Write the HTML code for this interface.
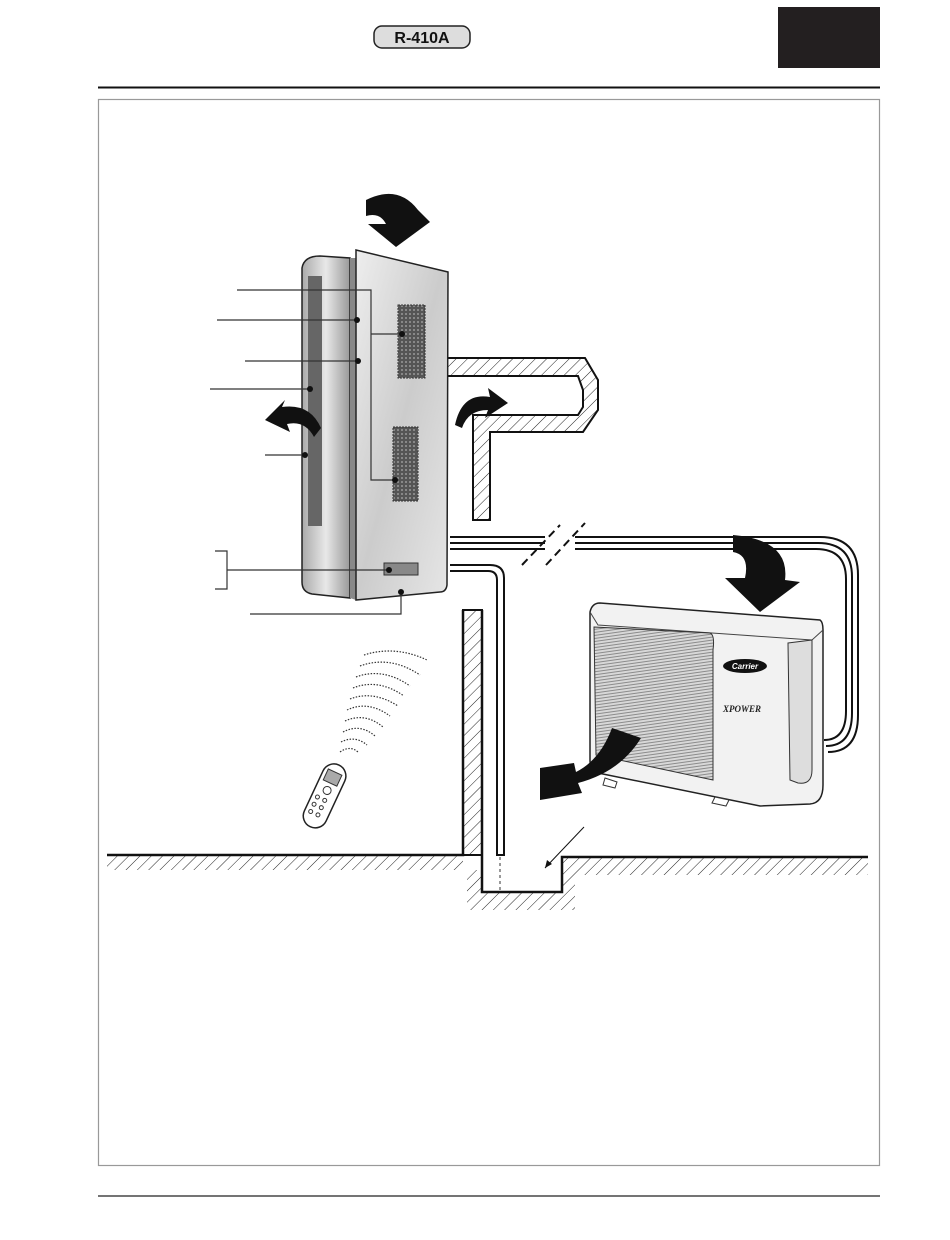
<!DOCTYPE html>
<html><head><meta charset="utf-8"><style>
html,body{margin:0;padding:0;background:#fff;}
svg{display:block;}
</style></head><body>
<svg width="950" height="1240" viewBox="0 0 950 1240" xmlns="http://www.w3.org/2000/svg">
<defs>
<pattern id="h" width="8" height="8" patternUnits="userSpaceOnUse" patternTransform="rotate(45)">
<line x1="0" y1="0" x2="0" y2="8" stroke="#222" stroke-width="1"/></pattern>
<pattern id="g" width="4" height="4" patternUnits="userSpaceOnUse">
<rect width="4" height="4" fill="#555"/><rect x="1" y="1" width="2" height="2" fill="#888"/></pattern>
<pattern id="mesh" width="6" height="3" patternUnits="userSpaceOnUse" patternTransform="rotate(-8)">
<rect width="6" height="3" fill="#d8d8d8"/><line x1="0" y1="1" x2="6" y2="1" stroke="#777" stroke-width="0.8"/></pattern>
<linearGradient id="pg" x1="0" y1="0" x2="1" y2="1"><stop offset="0" stop-color="#eee"/><stop offset="0.5" stop-color="#ccc"/><stop offset="1" stop-color="#e6e6e6"/></linearGradient>
<linearGradient id="bg" x1="0" y1="0" x2="1" y2="0"><stop offset="0" stop-color="#aaa"/><stop offset="0.5" stop-color="#e8e8e8"/><stop offset="1" stop-color="#999"/></linearGradient>
</defs>

<!-- header -->
<rect x="778" y="7" width="102" height="61" fill="#231f20"/>
<rect x="374" y="26" width="96" height="22" rx="8" fill="#ddd" stroke="#222" stroke-width="1.5"/>
<text x="422" y="43" font-family="Liberation Sans, sans-serif" font-weight="bold" font-size="16" text-anchor="middle" fill="#111">R-410A</text>
<line x1="98" y1="87.5" x2="880" y2="87.5" stroke="#111" stroke-width="2"/>
<rect x="98.5" y="99.5" width="781" height="1066" fill="none" stroke="#999" stroke-width="1.2"/>
<line x1="98" y1="1196" x2="880" y2="1196" stroke="#222" stroke-width="1.2"/>

<!-- duct -->
<path d="M447 358 H585 L598 380 V410 L583 432 H490 V520 H473 V415 H578 L583 407 V390 L578 376 H447 Z" fill="url(#h)" stroke="#111" stroke-width="2"/>

<!-- pipes -->
<g fill="none" stroke="#111" stroke-width="2">
<path d="M450 537 H545 M575 537 H820 Q858 537 858 575 V715 Q858 752 828 752"/>
<path d="M450 543 H545 M575 543 H818 Q852 543 852 577 V713 Q852 746 826 746"/>
<path d="M450 549 H545 M575 549 H816 Q846 549 846 579 V711 Q846 740 824 740"/>
<path d="M450 565 H490 Q504 565 504 578 V855 H497 V580 Q497 571 488 571 H450"/>
</g>
<rect x="546" y="532" width="28" height="20" fill="#fff"/>
<g stroke="#111" stroke-width="2">
<line x1="522" y1="565" x2="560" y2="525" stroke-dasharray="8,5"/>
<line x1="546" y1="565" x2="585" y2="523" stroke-dasharray="8,5"/>
</g>

<!-- walls / floor -->
<rect x="463" y="610" width="19" height="245" fill="url(#h)" stroke="#111" stroke-width="2"/>
<path d="M107 855 H463 V870 H107 Z" fill="url(#h)"/>
<path d="M482 855 V892 H562 V857 H868 V875 H575 V910 H467 V870 H482Z" fill="url(#h)"/>
<path d="M107 855 H463 V610 M482 610 V892 H562 V857 H868" fill="none" stroke="#111" stroke-width="2.5"/>
<line x1="500" y1="857" x2="500" y2="892" stroke="#333" stroke-dasharray="3,3"/>
<path d="M584 827 L545 868" stroke="#111" fill="none"/>
<path d="M545 868 l2 -8 l5 4z" fill="#111"/>

<!-- indoor unit -->
<path d="M302 268 Q304 256 320 256 L350 258 V598 L312 594 Q302 592 302 582 Z" fill="url(#bg)" stroke="#222" stroke-width="1.5"/>
<rect x="308" y="276" width="14" height="250" fill="#666"/>
<path d="M350 258 L356 258 V600 L350 598Z" fill="#888"/>
<path d="M356 250 L448 272 L447 585 Q446 592 440 592 L356 600 Z" fill="url(#pg)" stroke="#222" stroke-width="1.5"/>
<rect x="398" y="305" width="27" height="73" fill="url(#g)" stroke="#333" stroke-dasharray="2,1"/>
<rect x="393" y="427" width="25" height="74" fill="url(#g)" stroke="#333" stroke-dasharray="2,1"/>
<rect x="384" y="563" width="34" height="12" fill="#888" stroke="#333"/>

<!-- leaders -->
<g stroke="#333" stroke-width="1.2" fill="none">
<path d="M237 290 H371 V480 H395"/><path d="M371 334 H402"/>
<line x1="217" y1="320" x2="357" y2="320"/>
<line x1="245" y1="361" x2="358" y2="361"/>
<line x1="210" y1="389" x2="310" y2="389"/>
<line x1="265" y1="455" x2="305" y2="455"/>
<line x1="227" y1="570" x2="389" y2="570"/>
<path d="M215 551 H227 V589 H215"/>
<path d="M250 614 H401 V593"/>
</g>
<g fill="#111"><circle cx="402" cy="334" r="3"/><circle cx="395" cy="480" r="3"/><circle cx="357" cy="320" r="3"/><circle cx="358" cy="361" r="3"/><circle cx="310" cy="389" r="3"/><circle cx="305" cy="455" r="3"/><circle cx="389" cy="570" r="3"/><circle cx="401" cy="592" r="3"/></g>

<!-- outdoor unit -->
<path d="M590 612 Q592 603 600 603 L820 620 Q823 622 823 630 V785 Q823 803 810 804 L760 806 L598 773 Q590 771 590 760Z" fill="#f2f2f2" stroke="#222" stroke-width="1.5"/>
<path d="M590 612 L598 625 L812 640 L823 630" fill="none" stroke="#444"/>
<path d="M594 627 L710 633 Q715 635 713 650 V780 L596 755 Z" fill="url(#mesh)" stroke="#333"/>
<path d="M788 643 L812 640 V770 Q812 785 798 783 L790 780 Z" fill="#ddd" stroke="#333"/>
<ellipse cx="745" cy="666" rx="22" ry="7" fill="#111"/>
<text x="745" y="669" font-family="Liberation Sans, sans-serif" font-size="8" font-weight="bold" fill="#fff" text-anchor="middle" font-style="italic">Carrier</text>
<text x="723" y="712" font-family="Liberation Serif, serif" font-size="9" font-weight="bold" font-style="italic" fill="#222">XPOWER</text>
<path d="M605 778 l12 4 l-2 6 l-12 -3z M715 797 l14 3 l-3 6 l-14 -3z" fill="#fff" stroke="#333"/>

<!-- arrows -->
<g fill="#111">
<path d="M366 200 Q398 184 418 210 L430 222 L396 247 L368 224 L386 224 Q380 212 366 216 Z"/>
<path d="M321 428 Q310 403 282 407 L285 400 L265 420 L290 432 L287 424 Q305 420 314 437 Z"/>
<path d="M455 425 Q462 392 490 397 L488 388 L508 403 L485 418 L488 410 Q468 410 462 428Z"/>
<path d="M733 535 Q790 540 785 580 L800 582 L760 612 L725 578 L745 578 Q750 555 733 552Z"/>
<path d="M612 728 L641 738 Q620 772 578 783 L582 793 L540 800 L540 768 L574 763 L576 772 Q600 760 612 728Z"/>
</g>

<!-- signal & remote -->
<g fill="none" stroke="#333" stroke-width="1.2" stroke-dasharray="1.5,1.5">
<path d="M340 752 Q350 745 358 752"/><path d="M341 742 Q355 735 367 745"/><path d="M343 732 Q360 723 375 736"/>
<path d="M345 721 Q365 712 383 727"/><path d="M347 710 Q368 700 390 716"/><path d="M350 699 Q373 690 398 706"/>
<path d="M353 688 Q378 678 404 696"/><path d="M356 677 Q383 667 410 686"/><path d="M360 666 Q390 655 420 675"/><path d="M364 655 Q395 645 427 660"/>
</g>
<g transform="rotate(25 325 795)">
<rect x="313" y="762" width="24" height="68" rx="12" fill="#fff" stroke="#222" stroke-width="1.5"/>
<rect x="317" y="770" width="15" height="12" fill="#aaa" stroke="#333"/>
<g fill="none" stroke="#333"><circle cx="325" cy="790" r="4"/><circle cx="319" cy="800" r="2"/><circle cx="327" cy="800" r="2"/><circle cx="319" cy="808" r="2"/><circle cx="327" cy="808" r="2"/><circle cx="319" cy="816" r="2"/><circle cx="327" cy="816" r="2"/></g>
</g>
</svg>
</body></html>
